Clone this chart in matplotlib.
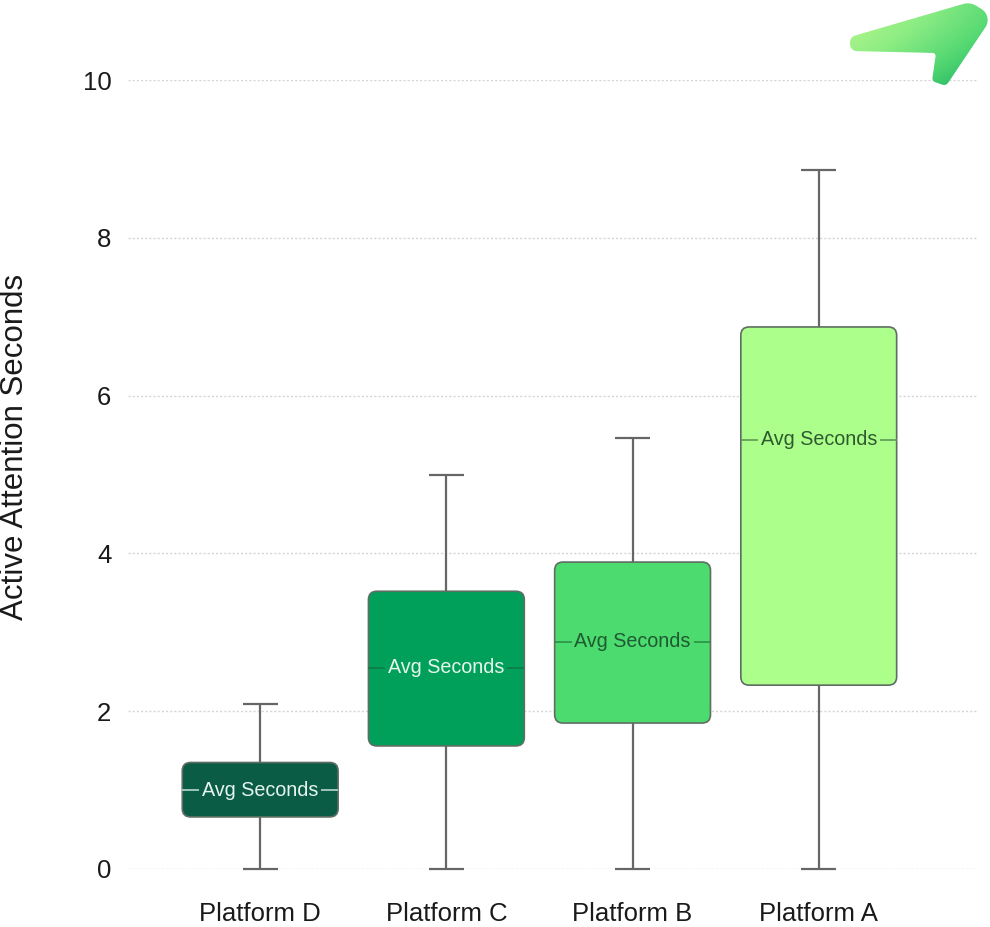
import numpy as np
import matplotlib.pyplot as plt
from matplotlib.patches import FancyBboxPatch, Polygon
from matplotlib.colors import LinearSegmentedColormap

plt.rcParams['font.family'] = ['Liberation Sans', 'DejaVu Sans']

# box statistics per platform
platforms = ["Platform D", "Platform C", "Platform B", "Platform A"]
whisker_low = [0.0, 0.0, 0.0, 0.0]
q1 = [0.66, 1.56, 1.85, 2.33]
avg = [1.0, 2.55, 2.88, 5.44]
q3 = [1.35, 3.52, 3.89, 6.87]
whisker_high = [2.09, 4.99, 5.46, 8.86]

box_colors = ["#0b5c45", "#00a05a", "#4cdb6e", "#acff8a"]
text_colors = ["#e6f4ee", "#e8f6ee", "#1f5a32", "#2f5a2f"]
median_colors = ["#b8d8cc", "#0d7a47", "#2d8f48", "#5f9a55"]


def fillet(pts, radii, n=12):
    # replace each corner of a closed polygon by a tangent arc
    pts = np.asarray(pts, dtype=float)
    out = []
    k = len(pts)
    for i in range(k):
        p, a, b = pts[i], pts[i - 1], pts[(i + 1) % k]
        u = (a - p) / np.linalg.norm(a - p)
        v = (b - p) / np.linalg.norm(b - p)
        half = np.arccos(np.clip(np.dot(u, v), -1, 1)) / 2
        r = radii[i]
        d = r / np.tan(half)
        t1, t2 = p + u * d, p + v * d
        bis = (u + v) / np.linalg.norm(u + v)
        c = p + bis * r / np.sin(half)
        a1 = np.arctan2(*(t1 - c)[::-1])
        a2 = np.arctan2(*(t2 - c)[::-1])
        da = (a2 - a1 + np.pi) % (2 * np.pi) - np.pi
        for t in np.linspace(0, 1, n):
            ang = a1 + da * t
            out.append(c + r * np.array([np.cos(ang), np.sin(ang)]))
    return np.array(out)


W, H = 990, 927
fig = plt.figure(figsize=(W / 100, H / 100), dpi=100)
ax = fig.add_axes([128 / W, (H - 869) / H, 849 / W, 789 / H])

xs = np.arange(len(platforms))
box_w = 0.837
cap_w = 0.19

for x, lo, a, m, b, hi, fc, tc, mc in zip(xs, whisker_low, q1, avg, q3, whisker_high,
                                          box_colors, text_colors, median_colors):
    # whiskers and caps
    ax.vlines(x, lo, a, color="#666666", lw=1.6, zorder=2, clip_on=False)
    ax.vlines(x, b, hi, color="#666666", lw=1.6, zorder=2, clip_on=False)
    ax.hlines([lo, hi], x - cap_w / 2, x + cap_w / 2, color="#666666", lw=1.6,
              zorder=2, clip_on=False)
    # rounded box
    box = FancyBboxPatch((x - box_w / 2, a), box_w, b - a,
                         boxstyle="round,pad=0,rounding_size=0.045",
                         mutation_aspect=2.35, facecolor=fc, edgecolor="#5e6e62",
                         lw=1.2, zorder=3)
    ax.add_patch(box)
    ax.hlines(m, x - box_w / 2, x + box_w / 2, color=mc, lw=1.2, zorder=4)
    ax.text(x, m, "Avg Seconds", ha="center", va="center", fontsize=14.2,
            color=tc, zorder=5,
            bbox=dict(facecolor=fc, edgecolor="none", pad=2.0))

ax.set_xlim(-0.71, 3.85)
ax.set_ylim(0, 10)
ax.set_yticks([0, 2, 4, 6, 8, 10])
ax.set_xticks(xs)
ax.set_xticklabels(platforms)
ax.tick_params(axis="both", length=0, labelsize=18.5, colors="#1a1a1a")
ax.tick_params(axis="x", pad=24)
ax.tick_params(axis="y", pad=12)
ax.grid(axis="y", linestyle=(0, (1.5, 1.5)), color="#d4d4d4", lw=1.0, zorder=0)
ax.set_axisbelow(True)
for s in ax.spines.values():
    s.set_visible(False)
ax.set_ylabel("Active Attention Seconds", fontsize=22.5, color="#1a1a1a")
ax.yaxis.set_label_coords(-0.115, 0.535)

# logo mark in the top right corner
lax = fig.add_axes([0, 0, 1, 1], zorder=10)
lax.set_xlim(0, W)
lax.set_ylim(H, 0)
lax.axis("off")
logo_pts = [(850, 37), (970, 2), (993, 16), (946, 86), (932, 81), (936, 53), (850, 51)]
logo_r = [7, 16, 13, 5, 4, 3, 7]
logo = Polygon(fillet(logo_pts, logo_r), closed=True, facecolor="none",
               edgecolor="none")
lax.add_patch(logo)
gx, gy = np.meshgrid(np.linspace(0, 1, 200), np.linspace(0, 1, 120))
grad = 0.7 * gx + 0.55 * gy ** 1.5
cmap = LinearSegmentedColormap.from_list(
    "logo", ["#b8f78c", "#8eed84", "#55d873", "#1fb462"])
img = lax.imshow(grad, extent=[848, 994, 88, 0], cmap=cmap, aspect="auto",
                 vmin=0, vmax=1.15)
img.set_clip_path(logo)

fig.savefig("out.png", dpi=100)
